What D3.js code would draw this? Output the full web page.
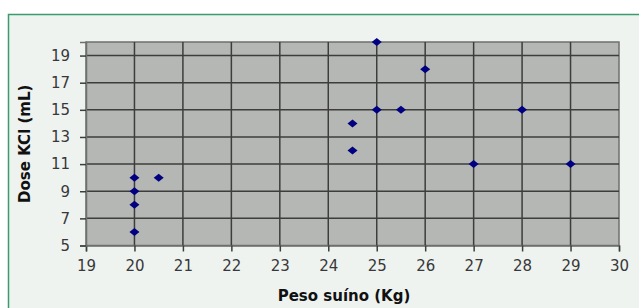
<!DOCTYPE html>
<html>
<head>
<meta charset="utf-8">
<script src="https://cdn.jsdelivr.net/npm/d3@7"></script>
<style>
  body { margin: 0; background: #fff; }
  svg { display: block; }
</style>
</head>
<body>
<div id="container"></div>
<script>
const pesoSuino = [20, 20, 20, 20, 20.5, 24.5, 24.5, 25, 25, 25.5, 26, 27, 28, 29]
const doseKCl = [10, 9, 8, 6, 10, 14, 12, 20, 15, 15, 18, 11, 15, 11]
const xTicks = [19, 20, 21, 22, 23, 24, 25, 26, 27, 28, 29, 30]
const yTicks = [5, 7, 9, 11, 13, 15, 17, 19]

const w = 639
const h = 308
const font = "DejaVu Sans, Verdana, sans-serif"

const svg = d3.select("#container")
  .append("svg")
  .attr("width", w)
  .attr("height", h)

// framed panel
svg.append("rect")
  .attr("x", 8.5).attr("y", 14.5)
  .attr("width", w + 10).attr("height", h + 10)
  .attr("fill", "#eef3f0")
  .attr("stroke", "#3b9b6b")
  .attr("stroke-width", 1.5)

const x = d3.scaleLinear().domain([19, 30]).range([86, 619])
const y = d3.scaleLinear().domain([5, 20]).range([245.5, 42])

svg.append("rect")
  .attr("x", x(19)).attr("y", y(20))
  .attr("width", x(30) - x(19)).attr("height", y(5) - y(20))
  .attr("fill", "#b4b7b3")
  .attr("stroke", "#6e706d")
  .attr("stroke-width", 1.5)

const grid = svg.append("g").attr("stroke", "#3c3d3c").attr("stroke-width", 1.5)
grid.selectAll(".vg").data(xTicks.slice(1, -1)).enter().append("line")
  .attr("x1", d => x(d)).attr("x2", d => x(d))
  .attr("y1", y(20)).attr("y2", y(5))
grid.selectAll(".hg").data(yTicks.slice(1)).enter().append("line")
  .attr("x1", x(19)).attr("x2", x(30))
  .attr("y1", d => y(d)).attr("y2", d => y(d))

const xAxis = svg.append("g")
  .attr("transform", `translate(0,${y(5)})`)
  .call(d3.axisBottom(x).tickValues(xTicks).tickSize(6).tickPadding(9).tickFormat(d3.format("d")))
const yAxis = svg.append("g")
  .attr("transform", `translate(${x(19)},0)`)
  .call(d3.axisLeft(y).tickValues(yTicks).tickSize(6).tickPadding(10).tickFormat(d3.format("d")))

for (const ax of [xAxis, yAxis]) {
  ax.select(".domain").attr("stroke", "#6e706d").attr("stroke-width", 1.5)
  ax.selectAll(".tick line").attr("stroke", "#3c3d3c").attr("stroke-width", 1.5)
  ax.selectAll("text")
    .attr("fill", "#383838")
    .style("font-family", font)
    .style("font-size", "15px")
}

// flat diamond markers
const diamond = d3.symbol().type(d3.symbolSquare).size(32)
svg.selectAll(".pt")
  .data(pesoSuino.map((p, i) => [p, doseKCl[i]]))
  .enter()
  .append("path")
  .attr("d", diamond)
  .attr("transform", d => `translate(${x(d[0])},${y(d[1])}) scale(1.25,1) rotate(45)`)
  .attr("fill", "#000080")

svg.append("text")
  .attr("x", 344).attr("y", 301)
  .attr("text-anchor", "middle")
  .style("font-family", font)
  .style("font-size", "15px").style("font-weight", "bold")
  .attr("fill", "#111")
  .text("Peso suíno (Kg)")

svg.append("text")
  .attr("transform", `translate(30,${(y(5) + y(20)) / 2}) rotate(-90)`)
  .attr("text-anchor", "middle")
  .style("font-family", font)
  .style("font-size", "15px").style("font-weight", "bold")
  .attr("fill", "#111")
  .text("Dose KCl (mL)")
</script>
</body>
</html>
